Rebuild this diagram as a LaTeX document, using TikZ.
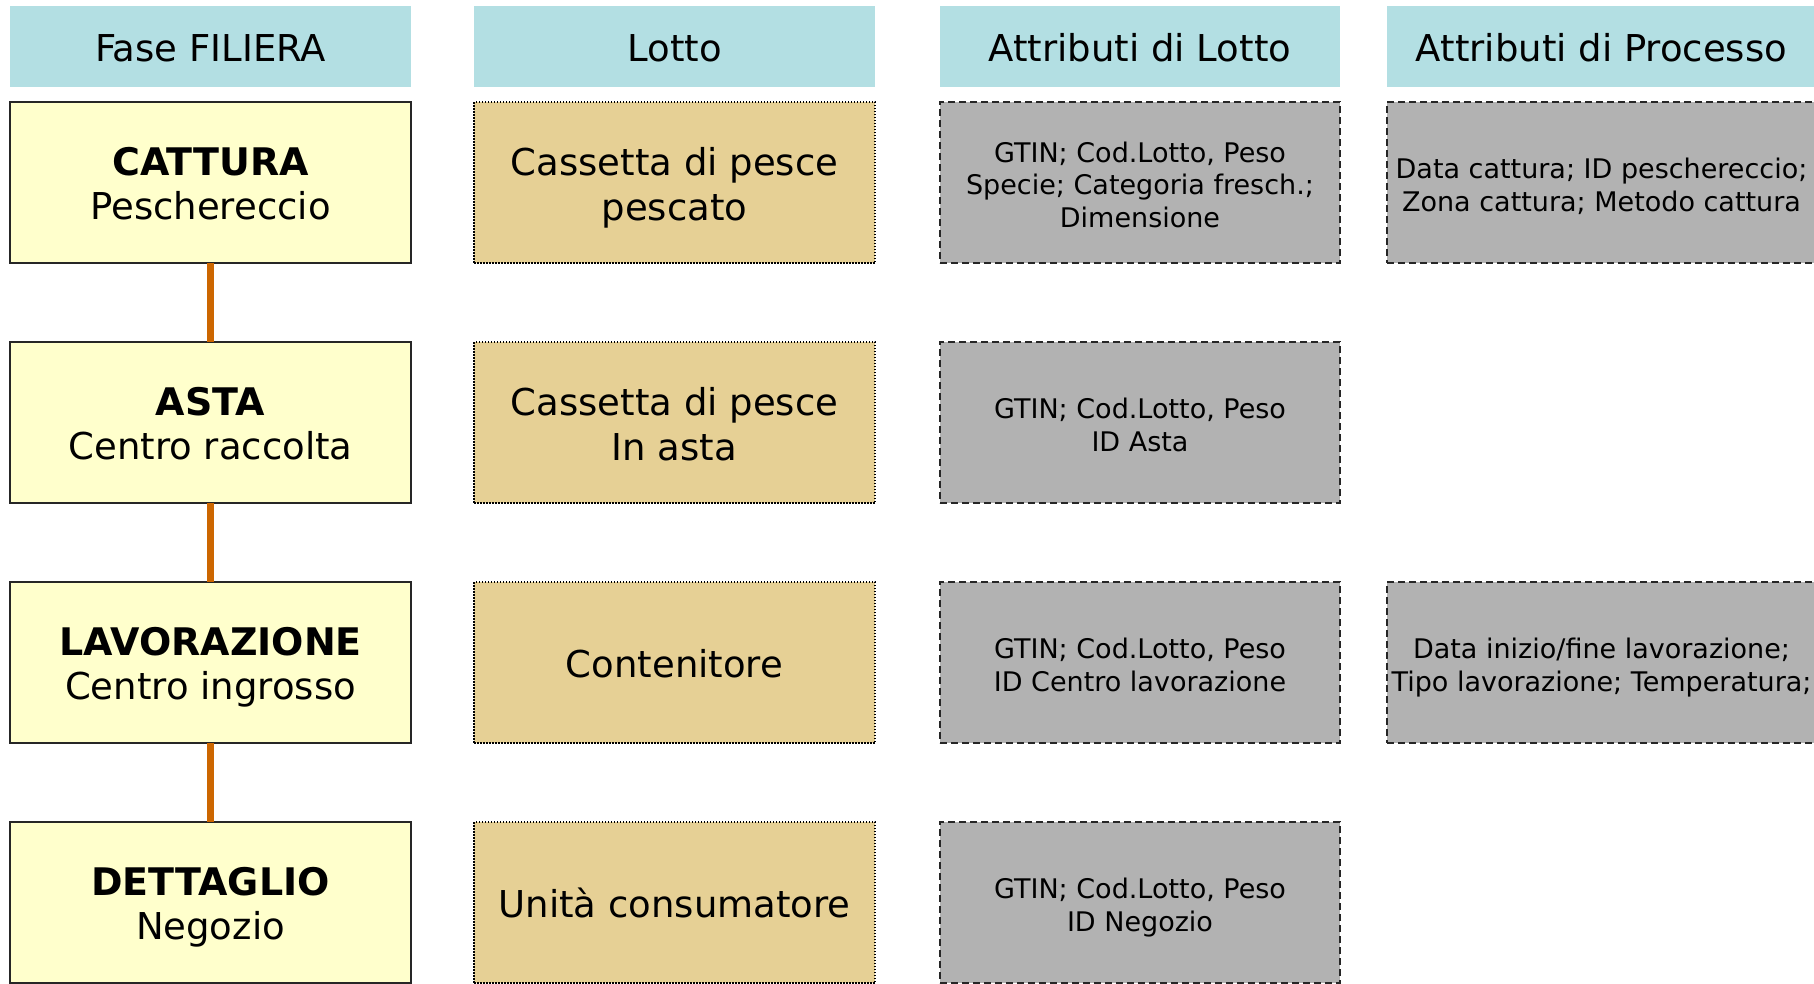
\documentclass[tikz,border=0pt]{standalone}
\usepackage{fontspec}
\setmainfont{DejaVu Sans}
\definecolor{hdrc}{HTML}{B3DFE3}
\definecolor{phasec}{HTML}{FFFFCC}
\definecolor{lotc}{HTML}{E6D095}
\definecolor{attrc}{HTML}{B2B2B2}
\definecolor{linkc}{HTML}{CC6600}
\newcommand{\sa}{\vphantom{Ag}}
\newcommand{\st}{\vphantom{Ag}\rule{0pt}{\dimexpr 0.76em+10pt\relax}}
\begin{document}
\begin{tikzpicture}[x=1pt,y=-1pt,
  base/.style={inner sep=0pt, outer sep=0pt, align=center, text=black},
  hdr/.style={base, fill=hdrc, minimum height=81pt, font=\fontsize{37}{44}\selectfont},
  phase/.style={base, fill=phasec, draw=black!85, line width=2pt, minimum width=401pt, minimum height=161pt, font=\fontsize{37}{44}\selectfont},
  lot/.style={base, fill=lotc, draw=black, line width=1.5pt, dash pattern=on 1.5pt off 1.5pt, minimum width=401pt, minimum height=161pt, font=\fontsize{37}{45}\selectfont},
  attr/.style={base, fill=attrc, draw=black!85, line width=2pt, dash pattern=on 7pt off 4pt, minimum height=161pt, font=\fontsize{27}{32.5}\selectfont},
  link/.style={draw=linkc, line width=7pt}]
\useasboundingbox (0,0) rectangle (1814,983);
% headers
\node[hdr, minimum width=401pt] (h1) at (210.5,46.5) {\st Fase FILIERA};
\node[hdr, minimum width=401pt] (h2) at (674.5,46.5) {\st Lotto};
\node[hdr, minimum width=400pt] (h3) at (1140,46.5) {\st Attributi di Lotto};
\node[hdr, minimum width=429pt] (h4) at (1601.5,46.5) {\st Attributi di Processo};
% phases
\node[phase] (p1) at (210.5,182.5) {\st{\fontsize{38}{44}\selectfont\bfseries CATTURA}\\\sa Peschereccio};
\node[phase] (p2) at (210.5,422.5) {\st{\fontsize{38}{44}\selectfont\bfseries ASTA}\\\sa Centro raccolta};
\node[phase] (p3) at (210.5,662.5) {\st{\fontsize{38}{44}\selectfont\bfseries LAVORAZIONE}\\\sa Centro ingrosso};
\node[phase] (p4) at (210.5,902.5) {\st{\fontsize{38}{44}\selectfont\bfseries DETTAGLIO}\\\sa Negozio};
% lots
\node[lot] (l1) at (674.5,182.5) {\st Cassetta di pesce\\\sa pescato};
\node[lot] (l2) at (674.5,422.5) {\st Cassetta di pesce\\\sa In asta};
\node[lot] (l3) at (674.5,662.5) {\st Contenitore};
\node[lot] (l4) at (674.5,902.5) {\st Unità consumatore};
% lot attributes
\node[attr, minimum width=400pt] (a1) at (1140,182.5) {\st GTIN; Cod.Lotto, Peso\\Specie; Categoria fresch.;\\\sa Dimensione};
\node[attr, minimum width=400pt] (a2) at (1140,422.5) {\st GTIN; Cod.Lotto, Peso\\\sa ID Asta};
\node[attr, minimum width=400pt] (a3) at (1140,662.5) {\st GTIN; Cod.Lotto, Peso\\\sa ID Centro lavorazione};
\node[attr, minimum width=400pt] (a4) at (1140,902.5) {\st GTIN; Cod.Lotto, Peso\\\sa ID Negozio};
% process attributes
\node[attr, minimum width=429pt] (q1) at (1601.5,182.5) {\st Data cattura; ID peschereccio;\\\sa Zona cattura; Metodo cattura};
\node[attr, minimum width=429pt] (q3) at (1601.5,662.5) {\st Data inizio/fine lavorazione;\\\sa Tipo lavorazione; Temperatura;};
% connectors
\draw[link] (p1.south) -- (p2.north);
\draw[link] (p2.south) -- (p3.north);
\draw[link] (p3.south) -- (p4.north);
\end{tikzpicture}
\end{document}
